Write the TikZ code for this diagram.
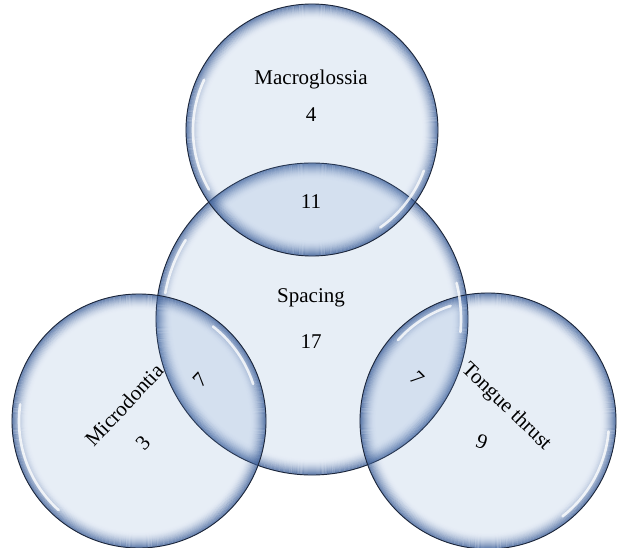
\documentclass[tikz,border=0pt]{standalone}
\usepackage{fontspec}
\setmainfont{Liberation Serif}
\definecolor{fillc}{RGB}{108,148,202}
\definecolor{rimc}{RGB}{58,92,150}
\definecolor{edgec}{RGB}{28,38,58}
\newcommand\vbubble[2]{%
  \fill[fillc, fill opacity=0.16] (#1) circle[radius=#2pt];
  \foreach \k in {0,...,15}{%
    \pgfmathsetmacro{\op}{0.72*(1-\k/16)^2}%
    \pgfmathsetmacro{\rr}{#2-\k-0.5}%
    \draw[rimc, draw opacity=\op, line width=1.1pt] (#1) circle[radius=\rr pt];
  }
  \draw[edgec, line width=0.9pt] (#1) circle[radius=#2pt];
}
\newcommand\vhl[4]{%
  \pgfmathsetmacro{\hr}{#2-7}%
  \draw[white, draw opacity=0.8, line width=2.6pt, line cap=round]
    ([shift={(#3:\hr pt)}]#1) arc[start angle=#3, end angle=#4, radius=\hr pt];
}
\tikzset{lbl/.style={font=\fontsize{21}{24}\selectfont, inner sep=0pt, text=black}}
\begin{document}
\begin{tikzpicture}[x=1pt,y=1pt]
\useasboundingbox (0,0) rectangle (617,547);
\coordinate (sp) at (312,228);
\coordinate (mg) at (312,417);
\coordinate (md) at (139,126);
\coordinate (tt) at (488,126);
\vbubble{sp}{156}
\vbubble{mg}{126}
\vbubble{md}{127}
\vbubble{tt}{128}
\vhl{sp}{156}{148}{170}
\vhl{sp}{156}{-5}{14}
\vhl{mg}{126}{155}{210}
\vhl{mg}{126}{-20}{-55}
\vhl{md}{127}{172}{228}
\vhl{md}{127}{18}{52}
\vhl{tt}{128}{-5}{-52}
\vhl{tt}{128}{108}{138}
\node[lbl] (mgt) at (311,468) {Macroglossia};
\node[lbl] (mgn) at (311,432) {4};
\node[lbl] (mgsp) at (311,345) {11};
\node[lbl] (spt) at (311,249) {Spacing};
\node[lbl] (spn) at (311,205) {17};
\node[lbl, rotate=47] (mdt) at (124,142) {Microdontia};
\node[lbl, rotate=47] (mdn) at (143,104) {3};
\node[lbl, rotate=47] (mdsp) at (200,167) {7};
\node[lbl, rotate=-45] (ttsp) at (417,169) {7};
\node[lbl, rotate=-44] (ttt) at (506,140) {Tongue thrust};
\node[lbl, rotate=-20] (ttn) at (482,105) {9};
\end{tikzpicture}
\end{document}
